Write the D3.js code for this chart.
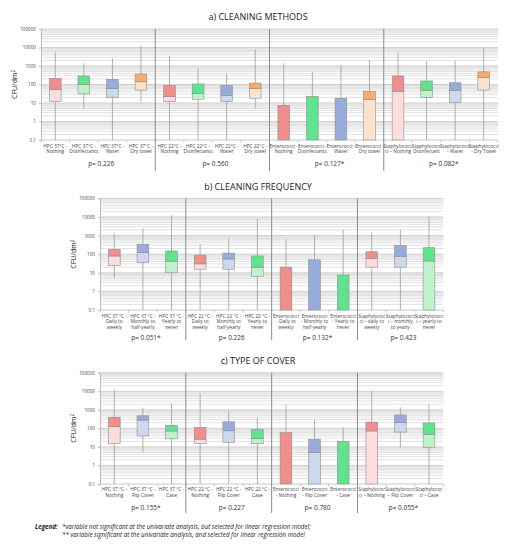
<!DOCTYPE html>
<html>
<head>
<meta charset="utf-8">
<script src="https://cdn.jsdelivr.net/npm/d3@7"></script>
<style>
  body { margin: 0; background: #fff; }
  svg { display: block; }
</style>
</head>
<body>
<svg id="chart" width="510" height="550"></svg>
<script>
// ---- data (CFU/dm2; 0.1 = bottom of axis) ----
let yTicks = [0.1, 1, 10, 100, 1000, 10000, 100000]

let methodsLabels = [
  ["HPC 37°C -", "Nothing"], ["HPC 37°C -", "Disinfectants"], ["HPC 37°C -", "Water"], ["HPC 37°C -", "Dry towel"],
  ["HPC 22°C -", "Nothing"], ["HPC 22°C -", "Disinfectants"], ["HPC 22°C -", "Water"], ["HPC 22°C -", "Dry towel"],
  ["Enterococci -", "Nothing"], ["Enterococci -", "Disinfectants"], ["Enterococci -", "Water"], ["Enterococci -", "Dry towel"],
  ["Staphylococc", "ci – Nothing"], ["Staphylococc", "Disinfectant"], ["Staphylococci", "- Water"], ["Staphylococci", "- Dry Towel"]
]
let methodsColors = ["red", "green", "blue", "orange", "red", "green", "blue", "orange",
                     "red", "green", "blue", "orange", "red", "green", "blue", "orange"]
let methodsMin = [0.1, 5, 0.1, 10.5, 0.1, 0.1, 0.1, 5, 0.1, 0.1, 0.1, 0.1, 0.1, 0.1, 0.1, 0.1]
let methodsQ1  = [11.8, 31, 20, 50, 11.8, 16, 11.8, 18, 0.1, 0.1, 0.1, 0.1, 0.1, 19.5, 10.5, 50]
let methodsMed = [55, 100, 61, 140, 22, 33, 25, 61, 0.1, 0.1, 0.1, 16, 43, 49, 49, 234]
let methodsQ3  = [216, 290, 190, 370, 87, 107, 87, 120, 7.5, 23, 18, 41, 290, 155, 125, 480]
let methodsMax = [5500, 1400, 2600, 13600, 3500, 740, 400, 8000, 1400, 460, 1100, 2100, 5500, 1850, 2000, 10000]
let methodsP = ["p= 0.226", "p= 0.560", "p= 0.127*", "p= 0.082*"]

let freqLabels = [
  ["HPC 37 °C -", "Daily to", "weekly"], ["HPC 37 °C -", "Monthly to", "half-yearly"], ["HPC 37 °C -", "Yearly to", "never"],
  ["HPC 22 °C -", "Daily to", "weekly"], ["HPC 22 °C -", "Monthly to", "half-yearly"], ["HPC 22 °C -", "Yearly to", "never"],
  ["Enterococci", "- Daily to", "weekly"], ["Enterococci", "- Monthly to", "half-yearly"], ["Enterococci", "- Yearly to", "never"],
  ["Staphylococ", "ci – daily to", "weekly"], ["Staphylococc", "i – monthly", "to yearly"], ["Staphylococc", "i – yearly to", "never"]
]
let freqColors = ["red", "blue", "green", "red", "blue", "green", "red", "blue", "green", "red", "blue", "green"]
let freqMin = [5, 0.1, 0.1, 0.1, 0.1, 0.1, 0.1, 0.1, 0.1, 0.1, 0.1, 0.1]
let freqQ1  = [25, 35, 10, 15.5, 15.5, 6.5, 0.1, 0.1, 0.1, 20, 20, 0.1]
let freqMed = [80, 126, 42, 30, 55, 20, 0.1, 0.1, 0.1, 60, 78, 43]
let freqQ3  = [183, 340, 148, 88, 114, 80, 20, 49, 7.6, 135, 300, 222]
let freqMax = [1300, 2450, 12600, 350, 680, 7800, 630, 1070, 2000, 1500, 2000, 10400]
let freqP = ["p= 0.051*", "p= 0.226", "p= 0.132*", "p= 0.423"]

let coverLabels = [
  ["HPC 37 °C -", "Nothing"], ["HPC 37 °C -", "Flip Cover"], ["HPC 37 °C -", "Case"],
  ["HPC 22 °C -", "Nothing"], ["HPC 22 °C -", "Flip Cover"], ["HPC 22 °C -", "Case"],
  ["Enterococci", "- Nothing"], ["Enterococci", "- Flip Cover"], ["Enterococci", "- Case"],
  ["Staphylococ", "ci – Nothing"], ["Staphylococci", "– Flip Cover"], ["Staphylococ", "ci – Case"]
]
let coverColors = ["red", "blue", "green", "red", "blue", "green", "red", "blue", "green", "red", "blue", "green"]
let coverMin = [0.1, 5.1, 0.1, 0.1, 0.1, 0.1, 0.1, 0.1, 0.1, 0.1, 9.6, 0.1]
let coverQ1  = [15.6, 39, 27, 15.6, 17.8, 14.8, 0.1, 0.1, 0.1, 0.1, 63, 9.6]
let coverMed = [122, 280, 72, 26, 74, 29, 0.1, 5.1, 0.1, 72, 205, 48]
let coverQ3  = [400, 475, 146, 115, 227, 85, 59, 26, 20, 218, 525, 195]
let coverMax = [12700, 1300, 2200, 7700, 900, 375, 2000, 280, 115, 10200, 1350, 2000]
let coverP = ["p= 0.155*", "p= 0.227", "p= 0.780", "p= 0.055*"]

let palette = {
  red:    { dark: "#f08e8e", light: "#fcdcdc" },
  green:  { dark: "#5fe38c", light: "#bdf3cc" },
  blue:   { dark: "#98acdb", light: "#cdd8ef" },
  orange: { dark: "#f9ac68", light: "#fde2cb" }
}

let svg = d3.select('#chart')
let font = "'Open Sans', 'Liberation Sans', sans-serif"

let drawPanel = (cfg, labels, colors, mins, q1s, meds, q3s, maxs, pvals) => {
  let g = svg.append('g')
  let y = d3.scaleLog().domain([0.1, 100000]).range([cfg.bottom, cfg.top])
  let x = d3.scaleBand().domain(d3.range(labels.length)).range([cfg.left, cfg.right])
  let bw = x.bandwidth() * 0.41

  // title
  g.append('text')
    .attr('x', 258).attr('y', cfg.titleY)
    .attr('text-anchor', 'middle')
    .style('font-family', font).style('font-size', '9px').style('fill', '#222')
    .text(cfg.title)

  // minor + major grid
  let minors = []
  for (let d = -1; d < 5; d++) {
    for (let k = 2; k <= 9; k++) minors.push(k * Math.pow(10, d))
  }
  g.selectAll('.minor').data(minors).enter().append('line')
    .attr('x1', cfg.left).attr('x2', cfg.right)
    .attr('y1', d => y(d)).attr('y2', d => y(d))
    .attr('stroke', '#d9d9d9').attr('stroke-width', 0.8)
  g.selectAll('.major').data(yTicks.slice(1)).enter().append('line')
    .attr('x1', cfg.left).attr('x2', cfg.right)
    .attr('y1', d => y(d)).attr('y2', d => y(d))
    .attr('stroke', '#c6c6c6').attr('stroke-width', 0.8)

  // y axis
  let yAxis = d3.axisLeft(y).tickValues(yTicks).tickSize(2)
    .tickFormat(d => d < 1 ? '0.1' : d3.format('d')(d))
  let ya = g.append('g').attr('transform', `translate(${cfg.left},0)`).call(yAxis)
  ya.select('.domain').attr('stroke', '#bbb')
  ya.selectAll('line').attr('stroke', '#bbb')
  ya.selectAll('text').style('font-family', font).style('font-size', '4.6px').style('fill', '#444')

  // x axis baseline with ticks at category boundaries
  g.append('line')
    .attr('x1', cfg.left).attr('x2', cfg.right)
    .attr('y1', cfg.bottom).attr('y2', cfg.bottom)
    .attr('stroke', '#bbb').attr('stroke-width', 0.8)
  g.selectAll('.xtick').data(d3.range(labels.length + 1)).enter().append('line')
    .attr('x1', i => cfg.left + i * x.step()).attr('x2', i => cfg.left + i * x.step())
    .attr('y1', cfg.bottom).attr('y2', cfg.bottom + 2.5)
    .attr('stroke', '#bbb').attr('stroke-width', 0.8)

  // y title
  g.append('text')
    .attr('transform', `translate(${cfg.yTitleX},${(cfg.top + cfg.bottom) / 2}) rotate(-90)`)
    .attr('text-anchor', 'middle')
    .style('font-family', font).style('font-size', '7px').style('fill', '#222')
    .html('CFU/dm<tspan dy="-2.5" style="font-size:4.5px">2</tspan>')

  // group separators
  let per = labels.length / 4
  g.selectAll('.sep').data([1, 2, 3]).enter().append('line')
    .attr('x1', i => cfg.left + i * per * x.step()).attr('x2', i => cfg.left + i * per * x.step())
    .attr('y1', cfg.top).attr('y2', cfg.sepBottom)
    .attr('stroke', '#8a8a8a').attr('stroke-width', 1)

  let idx = d3.range(labels.length)
  let cx = i => x(i) + x.bandwidth() / 2

  // whiskers
  g.selectAll('.whisker').data(idx).enter().append('line')
    .attr('x1', cx).attr('x2', cx)
    .attr('y1', i => y(mins[i])).attr('y2', i => y(maxs[i]))
    .attr('stroke', '#9a9a9a').attr('stroke-width', 0.8)

  // lower half of box (Q1 to median)
  g.selectAll('.low').data(idx.filter(i => meds[i] > q1s[i])).enter().append('rect')
    .attr('x', i => cx(i) - bw / 2).attr('width', bw)
    .attr('y', i => y(meds[i])).attr('height', i => y(q1s[i]) - y(meds[i]))
    .attr('fill', i => palette[colors[i]].light)
    .attr('stroke', '#8f8f8f').attr('stroke-width', 0.6)

  // upper half of box (median to Q3)
  g.selectAll('.up').data(idx).enter().append('rect')
    .attr('x', i => cx(i) - bw / 2).attr('width', bw)
    .attr('y', i => y(q3s[i])).attr('height', i => y(meds[i]) - y(q3s[i]))
    .attr('fill', i => palette[colors[i]].dark)
    .attr('stroke', '#8f8f8f').attr('stroke-width', 0.6)

  // category labels
  let lab = g.selectAll('.lab').data(idx).enter().append('text')
    .attr('text-anchor', 'middle')
    .style('font-family', font).style('font-size', '4.8px').style('fill', '#444')
  lab.selectAll('tspan').data(i => labels[i].map(t => ({ t: t, i: i }))).enter().append('tspan')
    .attr('x', d => cx(d.i))
    .attr('y', (d, j) => cfg.labelY + j * 5.5)
    .text(d => d.t)

  // p-values
  g.selectAll('.pval').data(pvals).enter().append('text')
    .attr('x', (d, k) => cfg.left + (k + 0.5) * per * x.step() + 3)
    .attr('y', cfg.pY)
    .attr('text-anchor', 'middle')
    .style('font-family', font).style('font-size', '6.5px').style('fill', '#333')
    .text(d => d)
}

drawPanel({ title: 'a) CLEANING METHODS', titleY: 20, left: 41, right: 498, top: 29, bottom: 140,
            labelY: 147.5, pY: 166, sepBottom: 171, yTitleX: 17 },
  methodsLabels, methodsColors, methodsMin, methodsQ1, methodsMed, methodsQ3, methodsMax, methodsP)

drawPanel({ title: 'b) CLEANING FREQUENCY', titleY: 190, left: 100, right: 443.3, top: 198.3, bottom: 310,
            labelY: 317.5, pY: 340, sepBottom: 340, yTitleX: 76 },
  freqLabels, freqColors, freqMin, freqQ1, freqMed, freqQ3, freqMax, freqP)

drawPanel({ title: 'c) TYPE OF COVER', titleY: 364, left: 100, right: 443.3, top: 372.7, bottom: 484,
            labelY: 491, pY: 510, sepBottom: 513, yTitleX: 76 },
  coverLabels, coverColors, coverMin, coverQ1, coverMed, coverQ3, coverMax, coverP)

// legend
let leg = svg.append('g').style('font-family', font).style('font-style', 'italic').style('fill', '#222')
leg.append('text').attr('x', 35).attr('y', 528.5).style('font-size', '6.2px').style('font-weight', 'bold').text('Legend:')
leg.append('text').attr('x', 62).attr('y', 528.5).style('font-size', '6.2px')
  .text('*variable not significant at the univariate analysis, but selected for linear regression model;')
leg.append('text').attr('x', 62).attr('y', 536.5).style('font-size', '6.2px')
  .text('** variable significant at the univariate analysis, and selected for linear regression model')
</script>
</body>
</html>
